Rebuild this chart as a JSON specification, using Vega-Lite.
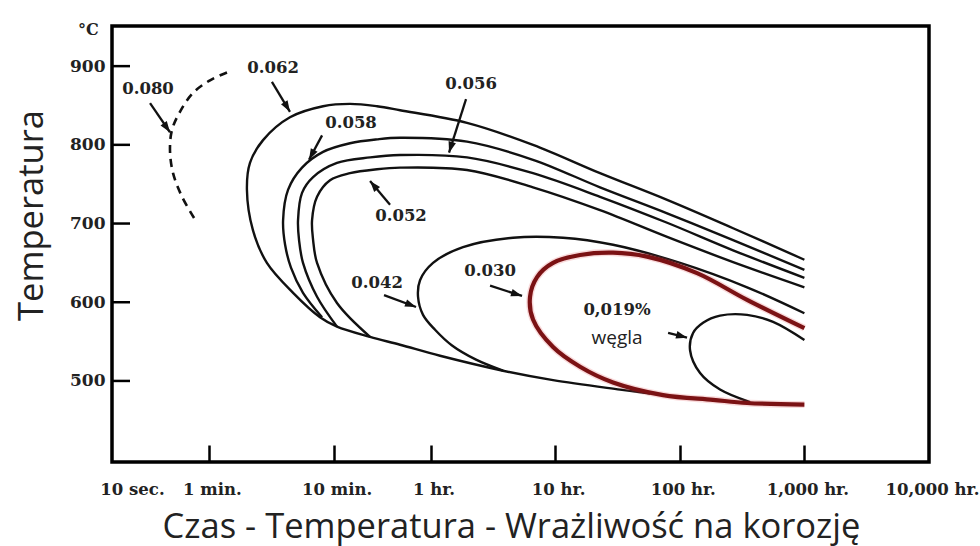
{
  "$schema": "https://vega.github.io/schema/vega-lite/v6.json",
  "width": 817,
  "height": 436,
  "autosize": {"type": "none"},
  "padding": {"left": 112, "top": 26, "right": 51, "bottom": 84},
  "background": "white",
  "config": {
    "view": {"stroke": "black", "strokeWidth": 3.5},
    "font": "Open Sans"
  },
  "title": {
    "text": "°C",
    "anchor": "start",
    "frame": "group",
    "font": "DejaVu Serif",
    "fontWeight": "bold",
    "fontSize": 16,
    "color": "#222",
    "dx": -34,
    "offset": -20,
    "baseline": "middle"
  },
  "datasets": {
    "curves": [
      {"c": "0.080", "i": 0, "t": 83.7, "T": 892},
      {"c": "0.080", "i": 1, "t": 61.2, "T": 882},
      {"c": "0.080", "i": 2, "t": 44.7, "T": 866},
      {"c": "0.080", "i": 3, "t": 35.1, "T": 842},
      {"c": "0.080", "i": 4, "t": 30.3, "T": 819},
      {"c": "0.080", "i": 5, "t": 29.2, "T": 793},
      {"c": "0.080", "i": 6, "t": 30.9, "T": 764},
      {"c": "0.080", "i": 7, "t": 36.5, "T": 734},
      {"c": "0.080", "i": 8, "t": 48.1, "T": 701},

      {"c": "0.062", "i": 0, "t": 3600000, "T": 654},
      {"c": "0.062", "i": 1, "t": 964000, "T": 694},
      {"c": "0.062", "i": 2, "t": 285000, "T": 730},
      {"c": "0.062", "i": 3, "t": 82500, "T": 764},
      {"c": "0.062", "i": 4, "t": 23900, "T": 800},
      {"c": "0.062", "i": 5, "t": 7060, "T": 828},
      {"c": "0.062", "i": 6, "t": 2050, "T": 844},
      {"c": "0.062", "i": 7, "t": 1340, "T": 849},
      {"c": "0.062", "i": 8, "t": 813, "T": 852},
      {"c": "0.062", "i": 9, "t": 494, "T": 849},
      {"c": "0.062", "i": 10, "t": 268, "T": 835},
      {"c": "0.062", "i": 11, "t": 163, "T": 806},
      {"c": "0.062", "i": 12, "t": 128, "T": 777},
      {"c": "0.062", "i": 13, "t": 121, "T": 743},
      {"c": "0.062", "i": 14, "t": 135, "T": 692},
      {"c": "0.062", "i": 15, "t": 175, "T": 650},
      {"c": "0.062", "i": 16, "t": 284, "T": 612},
      {"c": "0.062", "i": 17, "t": 467, "T": 581},
      {"c": "0.062", "i": 18, "t": 639, "T": 569},
      {"c": "0.062", "i": 19, "t": 1177, "T": 556},
      {"c": "0.062", "i": 20, "t": 2048, "T": 546},
      {"c": "0.062", "i": 21, "t": 4289, "T": 532},
      {"c": "0.062", "i": 22, "t": 13740, "T": 513},
      {"c": "0.062", "i": 23, "t": 34620, "T": 501},
      {"c": "0.062", "i": 24, "t": 119400, "T": 489},
      {"c": "0.062", "i": 25, "t": 207900, "T": 484},

      {"c": "0.058", "i": 0, "t": 3600000, "T": 641},
      {"c": "0.058", "i": 1, "t": 964000, "T": 679},
      {"c": "0.058", "i": 2, "t": 285000, "T": 713},
      {"c": "0.058", "i": 3, "t": 82500, "T": 746},
      {"c": "0.058", "i": 4, "t": 23900, "T": 781},
      {"c": "0.058", "i": 5, "t": 7060, "T": 804},
      {"c": "0.058", "i": 6, "t": 2050, "T": 809},
      {"c": "0.058", "i": 7, "t": 1340, "T": 807},
      {"c": "0.058", "i": 8, "t": 813, "T": 802},
      {"c": "0.058", "i": 9, "t": 494, "T": 791},
      {"c": "0.058", "i": 10, "t": 335, "T": 771},
      {"c": "0.058", "i": 11, "t": 259, "T": 743},
      {"c": "0.058", "i": 12, "t": 236, "T": 704},
      {"c": "0.058", "i": 13, "t": 245, "T": 673},
      {"c": "0.058", "i": 14, "t": 273, "T": 644},
      {"c": "0.058", "i": 15, "t": 341, "T": 612},
      {"c": "0.058", "i": 16, "t": 485, "T": 581},

      {"c": "0.056", "i": 0, "t": 3600000, "T": 631},
      {"c": "0.056", "i": 1, "t": 964000, "T": 666},
      {"c": "0.056", "i": 2, "t": 285000, "T": 701},
      {"c": "0.056", "i": 3, "t": 82500, "T": 734},
      {"c": "0.056", "i": 4, "t": 23900, "T": 764},
      {"c": "0.056", "i": 5, "t": 7060, "T": 784},
      {"c": "0.056", "i": 6, "t": 2050, "T": 787},
      {"c": "0.056", "i": 7, "t": 1180, "T": 784},
      {"c": "0.056", "i": 8, "t": 639, "T": 777},
      {"c": "0.056", "i": 9, "t": 411, "T": 759},
      {"c": "0.056", "i": 10, "t": 335, "T": 739},
      {"c": "0.056", "i": 11, "t": 311, "T": 704},
      {"c": "0.056", "i": 12, "t": 317, "T": 679},
      {"c": "0.056", "i": 13, "t": 341, "T": 650},
      {"c": "0.056", "i": 14, "t": 442, "T": 607},
      {"c": "0.056", "i": 15, "t": 639, "T": 569},

      {"c": "0.052", "i": 0, "t": 3600000, "T": 619},
      {"c": "0.052", "i": 1, "t": 964000, "T": 651},
      {"c": "0.052", "i": 2, "t": 285000, "T": 683},
      {"c": "0.052", "i": 3, "t": 82500, "T": 717},
      {"c": "0.052", "i": 4, "t": 23900, "T": 746},
      {"c": "0.052", "i": 5, "t": 7060, "T": 768},
      {"c": "0.052", "i": 6, "t": 2050, "T": 771},
      {"c": "0.052", "i": 7, "t": 1340, "T": 769},
      {"c": "0.052", "i": 8, "t": 813, "T": 764},
      {"c": "0.052", "i": 9, "t": 562, "T": 755},
      {"c": "0.052", "i": 10, "t": 442, "T": 734},
      {"c": "0.052", "i": 11, "t": 403, "T": 704},
      {"c": "0.052", "i": 12, "t": 411, "T": 679},
      {"c": "0.052", "i": 13, "t": 442, "T": 650},
      {"c": "0.052", "i": 14, "t": 639, "T": 599},
      {"c": "0.052", "i": 15, "t": 1177, "T": 556},

      {"c": "0.042", "i": 0, "t": 3600000, "T": 586},
      {"c": "0.042", "i": 1, "t": 1249000, "T": 619},
      {"c": "0.042", "i": 2, "t": 361900, "T": 650},
      {"c": "0.042", "i": 3, "t": 104900, "T": 673},
      {"c": "0.042", "i": 4, "t": 41650, "T": 682},
      {"c": "0.042", "i": 5, "t": 16530, "T": 682},
      {"c": "0.042", "i": 6, "t": 6561, "T": 670},
      {"c": "0.042", "i": 7, "t": 3769, "T": 650},
      {"c": "0.042", "i": 8, "t": 2964, "T": 628},
      {"c": "0.042", "i": 9, "t": 2857, "T": 607},
      {"c": "0.042", "i": 10, "t": 3133, "T": 584},
      {"c": "0.042", "i": 11, "t": 3912, "T": 565},
      {"c": "0.042", "i": 12, "t": 5355, "T": 545},
      {"c": "0.042", "i": 13, "t": 8343, "T": 527},
      {"c": "0.042", "i": 14, "t": 13740, "T": 513},

      {"c": "0.030", "i": 0, "t": 3600000, "T": 567},
      {"c": "0.030", "i": 1, "t": 1249000, "T": 603},
      {"c": "0.030", "i": 2, "t": 495500, "T": 637},
      {"c": "0.030", "i": 3, "t": 196700, "T": 658},
      {"c": "0.030", "i": 4, "t": 104900, "T": 663},
      {"c": "0.030", "i": 5, "t": 57020, "T": 660},
      {"c": "0.030", "i": 6, "t": 34620, "T": 650},
      {"c": "0.030", "i": 7, "t": 25760, "T": 632},
      {"c": "0.030", "i": 8, "t": 22630, "T": 607},
      {"c": "0.030", "i": 9, "t": 23920, "T": 578},
      {"c": "0.030", "i": 10, "t": 34620, "T": 543},
      {"c": "0.030", "i": 11, "t": 57020, "T": 518},
      {"c": "0.030", "i": 12, "t": 104900, "T": 498},
      {"c": "0.030", "i": 13, "t": 264400, "T": 482},
      {"c": "0.030", "i": 14, "t": 665800, "T": 476},
      {"c": "0.030", "i": 15, "t": 1249000, "T": 472},
      {"c": "0.030", "i": 16, "t": 3600000, "T": 470},

      {"c": "0.019", "i": 0, "t": 3600000, "T": 552},
      {"c": "0.019", "i": 1, "t": 2018000, "T": 575},
      {"c": "0.019", "i": 2, "t": 1249000, "T": 584},
      {"c": "0.019", "i": 3, "t": 757700, "T": 583},
      {"c": "0.019", "i": 4, "t": 553600, "T": 574},
      {"c": "0.019", "i": 5, "t": 460300, "T": 561},
      {"c": "0.019", "i": 6, "t": 435300, "T": 539},
      {"c": "0.019", "i": 7, "t": 523800, "T": 510},
      {"c": "0.019", "i": 8, "t": 757700, "T": 489},
      {"c": "0.019", "i": 9, "t": 1320000, "T": 473}
    ],
    "arrows": [
      {"c": "0.080", "t": 29.2, "T": 816, "ts": 20.2, "Ts": 853, "dir": 145},
      {"c": "0.062", "t": 268, "T": 842, "ts": 192, "Ts": 880, "dir": 149},
      {"c": "0.058", "t": 381, "T": 781, "ts": 485, "Ts": 812, "dir": 208},
      {"c": "0.056", "t": 5066, "T": 790, "ts": 6936, "Ts": 858, "dir": 197},
      {"c": "0.052", "t": 1177, "T": 754, "ts": 1703, "Ts": 724, "dir": 320},
      {"c": "0.042", "t": 2753, "T": 594, "ts": 1524, "Ts": 609, "dir": 111},
      {"c": "0.030", "t": 19520, "T": 608, "ts": 10810, "Ts": 621, "dir": 107},
      {"c": "0.019", "t": 411900, "T": 555, "ts": 290000, "Ts": 561, "dir": 105}
    ],
    "labels": [
      {"label": "0.080", "t": 19.45, "T": 871},
      {"label": "0.062", "t": 196, "T": 897},
      {"label": "0.058", "t": 828, "T": 828},
      {"label": "0.056", "t": 7606, "T": 877},
      {"label": "0.052", "t": 2086, "T": 710},
      {"label": "0.042", "t": 1339, "T": 625},
      {"label": "0.030", "t": 10810, "T": 640},
      {"label": "0,019%", "t": 113000, "T": 590}
    ],
    "notes": [
      {"label": "węgla", "t": 113000, "T": 555}
    ],
    "yticks": [
      {"T": 500, "t": 10, "ts": 13.95},
      {"T": 600, "t": 10, "ts": 13.95},
      {"T": 700, "t": 10, "ts": 13.95},
      {"T": 800, "t": 10, "ts": 13.95},
      {"T": 900, "t": 10, "ts": 13.95}
    ]
  },
  "encoding": {
    "x": {
      "field": "t",
      "type": "quantitative",
      "scale": {"type": "log", "domain": [10, 36000000], "nice": false},
      "axis": {
        "values": [10, 60, 600, 3600, 36000, 360000, 3600000, 36000000],
        "labelExpr": "datum.value < 30 ? '10 sec.' : datum.value < 300 ? '1 min.' : datum.value < 1000 ? '10 min.' : datum.value < 10000 ? '1 hr.' : datum.value < 100000 ? '10 hr.' : datum.value < 1000000 ? '100 hr.' : datum.value < 10000000 ? '1,000 hr.' : '10,000 hr.'",
        "domain": false,
        "grid": false,
        "tickSize": -17,
        "tickWidth": 2.5,
        "tickColor": "black",
        "tickOpacity": {"condition": {"test": "datum.value < 30 || datum.value > 10000000", "value": 0}, "value": 1},
        "labelFont": "DejaVu Serif",
        "labelFontWeight": "bold",
        "labelFontSize": 16.5,
        "labelColor": "#222",
        "labelPadding": 44,
        "labelBaseline": "middle",
        "labelOverlap": false,
        "labelFlush": false,
        "labelBound": false,
        "labelOffset": {"condition": {"test": "datum.value < 30", "value": 20}, "value": 3},
        "title": "Czas - Temperatura - Wrażliwość na korozję",
        "titleFont": "Open Sans",
        "titleFontSize": 34.5,
        "titleFontWeight": "normal",
        "titleColor": "#222",
        "titleX": 399,
        "titleY": 75,
        "titleAlign": "center",
        "titleBaseline": "alphabetic"
      }
    },
    "y": {
      "field": "T",
      "type": "quantitative",
      "scale": {"domain": [397, 951], "nice": false, "zero": false},
      "axis": {
        "values": [500, 600, 700, 800, 900],
        "domain": false,
        "grid": false,
        "ticks": false,
        "labelFont": "DejaVu Serif",
        "labelFontWeight": "bold",
        "labelFontSize": 17,
        "labelColor": "#222",
        "labelPadding": 7,
        "title": "Temperatura",
        "titleFont": "Open Sans",
        "titleFontSize": 34.5,
        "titleFontWeight": "normal",
        "titleColor": "#222",
        "titleX": -70,
        "titleY": 189,
        "titleAlign": "center",
        "titleBaseline": "alphabetic"
      }
    }
  },
  "layer": [
    {
      "data": {"name": "yticks"},
      "mark": {"type": "rule", "color": "black", "strokeWidth": 2.5},
      "encoding": {"x2": {"field": "ts"}, "y2": {"field": "T"}}
    },
    {
      "data": {"name": "curves"},
      "transform": [{"filter": "datum.c != '0.080' && datum.c != '0.030'"}],
      "mark": {"type": "line", "interpolate": "catmull-rom", "color": "#111", "strokeWidth": 2.4},
      "encoding": {"detail": {"field": "c"}, "order": {"field": "i", "type": "quantitative"}}
    },
    {
      "data": {"name": "curves"},
      "transform": [{"filter": "datum.c == '0.080'"}],
      "mark": {"type": "line", "interpolate": "catmull-rom", "color": "#111", "strokeWidth": 2.6, "strokeDash": [8, 6]},
      "encoding": {"order": {"field": "i", "type": "quantitative"}}
    },
    {
      "data": {"name": "curves"},
      "transform": [{"filter": "datum.c == '0.030'"}],
      "mark": {"type": "line", "interpolate": "catmull-rom", "color": "#e0484c", "opacity": 0.2, "strokeWidth": 7},
      "encoding": {"order": {"field": "i", "type": "quantitative"}}
    },
    {
      "data": {"name": "curves"},
      "transform": [{"filter": "datum.c == '0.030'"}],
      "mark": {"type": "line", "interpolate": "catmull-rom", "color": "#7b1214", "strokeWidth": 4.2},
      "encoding": {"order": {"field": "i", "type": "quantitative"}}
    },
    {
      "data": {"name": "arrows"},
      "mark": {"type": "rule", "color": "#111", "strokeWidth": 2.3},
      "encoding": {"x2": {"field": "ts"}, "y2": {"field": "Ts"}}
    },
    {
      "data": {"name": "arrows"},
      "mark": {"type": "point", "shape": "M0,0L0.9,2.6L-0.9,2.6Z", "filled": true, "color": "#111", "opacity": 1, "size": 72},
      "encoding": {"angle": {"field": "dir", "type": "quantitative", "scale": null}}
    },
    {
      "data": {"name": "labels"},
      "mark": {"type": "text", "font": "DejaVu Serif", "fontWeight": "bold", "fontSize": 16.5, "color": "#222", "align": "center", "baseline": "middle"},
      "encoding": {"text": {"field": "label"}}
    },
    {
      "data": {"name": "notes"},
      "mark": {"type": "text", "font": "Open Sans", "fontSize": 19, "color": "#222", "align": "center", "baseline": "middle"},
      "encoding": {"text": {"field": "label"}}
    }
  ]
}
